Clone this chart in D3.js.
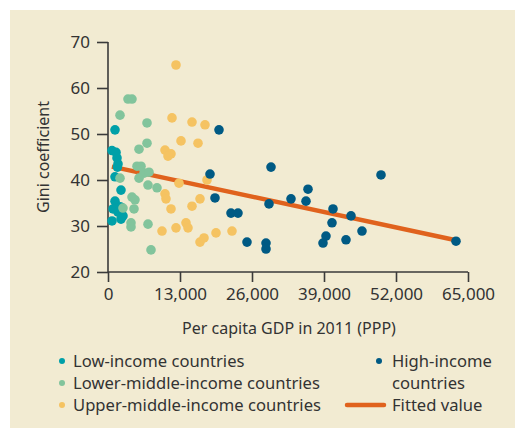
<!DOCTYPE html>
<html>
<head>
<meta charset="utf-8">
<script src="https://cdn.jsdelivr.net/npm/d3@7"></script>
<style>
  body { margin: 0; background: #ffffff; }
  svg text { font-family: "Noto Sans", "Open Sans", sans-serif; fill: #333; }
</style>
</head>
<body>
<div id="chart"></div>
<script>
// GDP per capita (PPP, 2011) vs Gini coefficient, by income group
const lowIncome = [
  [1264, 50.9], [722, 46.4], [1450, 46.0], [1625, 44.8], [1806, 43.5], [1700, 42.8],
  [1264, 40.7], [2347, 37.8], [1264, 35.4], [903, 33.7], [1806, 33.0],
  [2708, 32.2], [2347, 31.5], [722, 31.1], [2200, 34.2]
];
const lowerMiddle = [
  [3611, 57.6], [4333, 57.6], [2167, 54.1], [7042, 52.4], [7042, 48.0], [5597, 46.7],
  [5236, 43.0], [5958, 43.0], [6500, 41.5], [7403, 41.7], [2167, 40.4], [5597, 40.4],
  [7222, 38.9], [8847, 38.3], [4333, 36.3], [4875, 35.7], [2708, 33.9], [4694, 33.7],
  [4153, 30.7], [4153, 29.8], [7222, 30.4], [7764, 24.8]
];
const upperMiddle = [
  [12278, 65.0], [11556, 53.5], [15167, 52.6], [17514, 52.0], [13181, 48.5], [16250, 48.0],
  [10292, 46.5], [11375, 45.7], [10833, 45.2], [17875, 40.0], [12819, 39.3], [10292, 37.0],
  [10472, 35.9], [16611, 35.9], [11375, 33.7], [15167, 34.3], [9750, 28.9], [12278, 29.6],
  [14083, 30.7], [14444, 29.6], [16611, 26.5], [17333, 27.4], [19500, 28.5], [22389, 28.9]
];
const highIncome = [
  [20042, 50.9], [18417, 41.3], [19319, 36.1], [22208, 32.8], [23472, 32.8], [29431, 42.8],
  [29069, 34.8], [33042, 35.9], [35750, 35.4], [36111, 38.0], [40625, 33.7], [40444, 30.7],
  [39361, 27.8], [38819, 26.3], [25097, 26.5], [28528, 26.3], [28528, 25.0], [49292, 41.1],
  [43875, 32.2], [45861, 28.9], [42972, 27.0], [62833, 26.7]
];
const fitted = [[700, 42.9], [62833, 26.9]];

const xTicks = [0, 13000, 26000, 39000, 52000, 65000];
const yTicks = [20, 30, 40, 50, 60, 70];

const groups = [
  { name: "Low-income countries", data: lowIncome, color: "#00a0a8" },
  { name: "Lower-middle-income countries", data: lowerMiddle, color: "#82c49c" },
  { name: "Upper-middle-income countries", data: upperMiddle, color: "#f5c362" },
  { name: "High-income countries", data: highIncome, color: "#005a84" }
];

const width = 515, height = 428;
const svg = d3.select("#chart").append("svg").attr("width", width).attr("height", height);

svg.append("rect").attr("x", 10).attr("y", 10).attr("width", width - 10).attr("height", height - 10)
  .attr("fill", "#f2ebd2");

const x = d3.scaleLinear().domain([0, 65000]).range([108, 468]);
const y = d3.scaleLinear().domain([20, 70]).range([272, 42]);

const xAxis = svg.append("g").attr("transform", "translate(0,272)")
  .call(d3.axisBottom(x).tickValues(xTicks).tickSize(10).tickPadding(6).tickFormat(d3.format(",")));
const yAxis = svg.append("g").attr("transform", "translate(108,0)")
  .call(d3.axisLeft(y).tickValues(yTicks).tickSize(11).tickPadding(7));

[xAxis, yAxis].forEach(ax => {
  ax.select(".domain").attr("stroke", "#3a3a3a").attr("stroke-width", 1.6);
  ax.selectAll(".tick line").attr("stroke", "#3a3a3a").attr("stroke-width", 1.6);
  ax.selectAll(".tick text").attr("font-size", 17).attr("fill", "#333")
    .style("font-family", "'Noto Sans', sans-serif");
});
xAxis.select(".domain").attr("d", "M108,0H468");
yAxis.select(".domain").attr("d", "M0,42V272");

svg.append("text").attr("x", 289).attr("y", 334).attr("text-anchor", "middle")
  .attr("font-size", 16).text("Per capita GDP in 2011 (PPP)");
svg.append("text").attr("transform", "translate(49,157) rotate(-90)").attr("text-anchor", "middle")
  .attr("font-size", 16).text("Gini coefficient");

// fitted line under the dots
svg.append("path").datum(fitted)
  .attr("d", d3.line().x(d => x(d[0])).y(d => y(d[1])))
  .attr("stroke", "#e0621d").attr("stroke-width", 4.5).attr("fill", "none");

groups.forEach(g => {
  svg.append("g").selectAll("circle").data(g.data).enter().append("circle")
    .attr("cx", d => x(d[0])).attr("cy", d => y(d[1])).attr("r", 4.8)
    .attr("fill", g.color);
});

// legend
const legendLeft = [groups[0], groups[1], groups[2]];
legendLeft.forEach((g, i) => {
  const ly = 361 + i * 22;
  svg.append("circle").attr("cx", 62).attr("cy", ly).attr("r", 3).attr("fill", g.color);
  svg.append("text").attr("x", 73).attr("y", ly + 6).attr("font-size", 16.6).text(g.name);
});
svg.append("circle").attr("cx", 379).attr("cy", 361).attr("r", 3).attr("fill", groups[3].color);
svg.append("text").attr("x", 392).attr("y", 367).attr("font-size", 16.6).text("High-income");
svg.append("text").attr("x", 392).attr("y", 389).attr("font-size", 16.6).text("countries");
svg.append("line").attr("x1", 347).attr("x2", 384).attr("y1", 405).attr("y2", 405)
  .attr("stroke", "#e0621d").attr("stroke-width", 4.5).attr("stroke-linecap", "round");
svg.append("text").attr("x", 392).attr("y", 411).attr("font-size", 16.6).text("Fitted value");
</script>
</body>
</html>
